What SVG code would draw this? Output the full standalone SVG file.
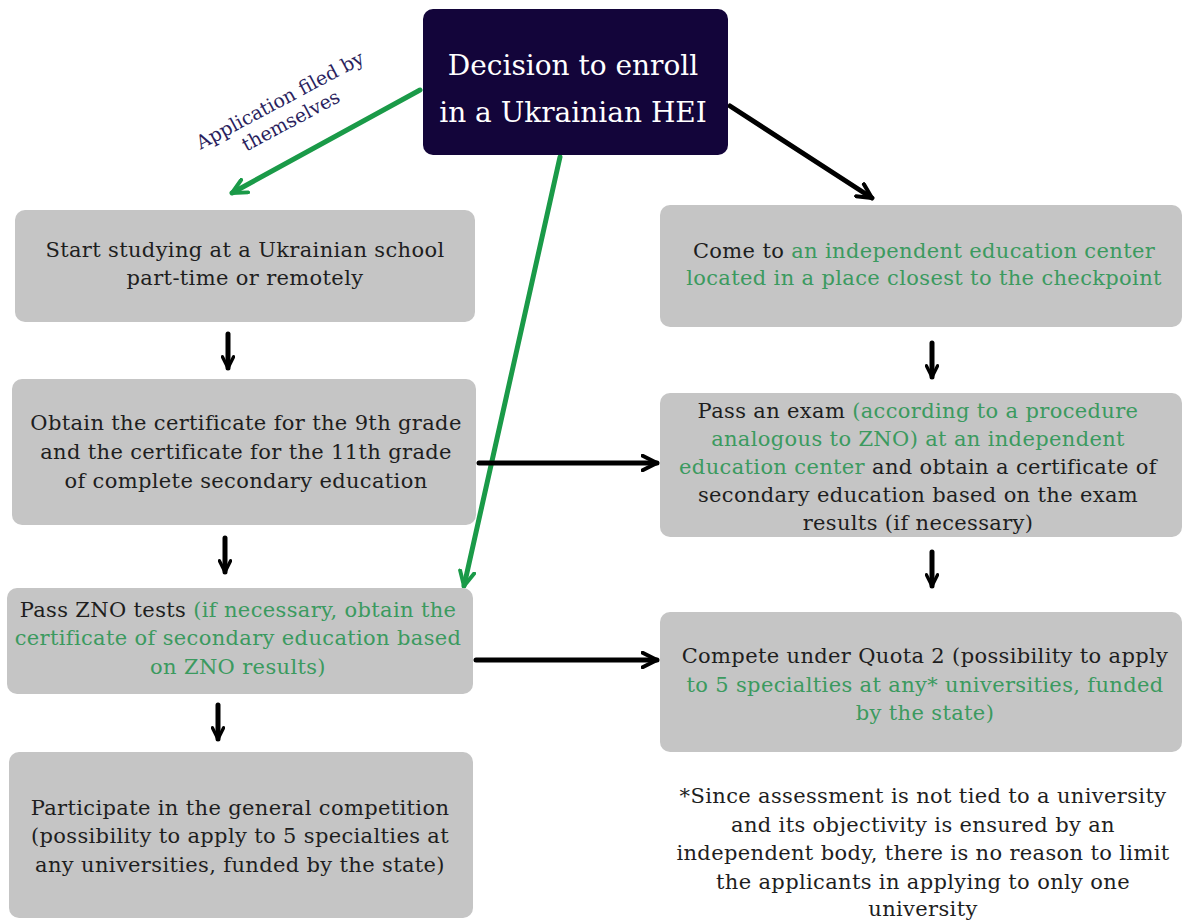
<svg xmlns="http://www.w3.org/2000/svg" width="1184" height="922" viewBox="0 0 1184 922">
<defs>
<style>
.box{fill:#c5c5c5;}
.t{font-family:"DejaVu Serif","Liberation Serif",serif;font-size:21px;letter-spacing:0.35px;fill:#1e1e1e;text-anchor:middle;}
.g{fill:#3b9a5f;}
.top{font-family:"DejaVu Serif","Liberation Serif",serif;font-size:28px;fill:#ffffff;text-anchor:middle;}
.lbl{font-family:"DejaVu Serif","Liberation Serif",serif;font-size:19px;fill:#2b1f5e;text-anchor:middle;}
.bl{stroke:#000;stroke-width:5;fill:none;stroke-linecap:round;stroke-linejoin:round;}
.gr{stroke:#1a9a48;stroke-width:5;fill:none;stroke-linecap:round;stroke-linejoin:round;}
</style>
<marker id="ab" viewBox="0 0 10 10" refX="9" refY="5" markerWidth="14" markerHeight="14" markerUnits="userSpaceOnUse" orient="auto">
<path d="M1,1 L9,5 L1,9" fill="none" stroke="#000" stroke-width="2.4" stroke-linecap="round" stroke-linejoin="round"/>
</marker>
<marker id="abL" viewBox="0 0 10 10" refX="9" refY="5" markerWidth="18" markerHeight="18" markerUnits="userSpaceOnUse" orient="auto">
<path d="M1,1 L9,5 L1,9" fill="none" stroke="#000" stroke-width="2.2" stroke-linecap="round" stroke-linejoin="round"/>
</marker>
<marker id="ag" viewBox="0 0 10 10" refX="9" refY="5" markerWidth="18" markerHeight="18" markerUnits="userSpaceOnUse" orient="auto">
<path d="M1,1 L9,5 L1,9" fill="none" stroke="#1a9a48" stroke-width="2.2" stroke-linecap="round" stroke-linejoin="round"/>
</marker>
</defs>
<rect width="1184" height="922" fill="#ffffff"/>

<g id="connectors">
<line class="gr" x1="420" y1="90" x2="232" y2="193" marker-end="url(#ag)"/>
<line class="gr" x1="560" y1="157" x2="464" y2="586" marker-end="url(#ag)"/>
<line class="bl" x1="730" y1="106" x2="872" y2="198" marker-end="url(#abL)"/>
<line class="bl" x1="479" y1="463" x2="657" y2="463" marker-end="url(#abL)"/>
<line class="bl" x1="476" y1="660" x2="657" y2="660" marker-end="url(#abL)"/>
<line class="bl" x1="228" y1="334" x2="228" y2="368" marker-end="url(#ab)"/>
<line class="bl" x1="225" y1="538" x2="225" y2="572" marker-end="url(#ab)"/>
<line class="bl" x1="218" y1="705" x2="218" y2="739" marker-end="url(#ab)"/>
<line class="bl" x1="932" y1="343" x2="932" y2="377" marker-end="url(#ab)"/>
<line class="bl" x1="932" y1="552" x2="932" y2="586" marker-end="url(#ab)"/>
<g transform="translate(283,106) rotate(-28)">
<text class="lbl" x="0" y="0">Application filed by</text>
<text class="lbl" x="0" y="23">themselves</text>
</g>
</g>

<g id="decision">
<rect x="423" y="9" width="305" height="146" rx="10" fill="#13053a"/>
<text class="top" x="573" y="75">Decision to enroll</text>
<text class="top" x="573" y="122">in a Ukrainian HEI</text>
</g>

<g id="start-school">
<rect class="box" x="15" y="210" width="460" height="112" rx="10"/>
<text class="t" x="245" y="257">Start studying at a Ukrainian school</text>
<text class="t" x="245" y="285">part-time or remotely</text>
</g>

<g id="certificate">
<rect class="box" x="12" y="379" width="464" height="146" rx="10"/>
<text class="t" x="246" y="430">Obtain the certificate for the 9th grade</text>
<text class="t" x="246" y="459">and the certificate for the 11th grade</text>
<text class="t" x="246" y="488">of complete secondary education</text>
</g>

<g id="zno">
<rect class="box" x="7" y="588" width="466" height="106" rx="10"/>
<text class="t" x="238" y="617">Pass ZNO tests  <tspan class="g">(if necessary, obtain the</tspan></text>
<text class="t g" x="238" y="645">certificate of secondary education based</text>
<text class="t g" x="238" y="674">on ZNO results)</text>
</g>

<g id="general-competition">
<rect class="box" x="9" y="752" width="464" height="166" rx="10"/>
<text class="t" x="240" y="815">Participate in the general competition</text>
<text class="t" x="240" y="843">(possibility to apply to 5 specialties at</text>
<text class="t" x="240" y="872">any universities, funded by the state)</text>
</g>

<g id="education-center">
<rect class="box" x="660" y="205" width="522" height="122" rx="10"/>
<text class="t" x="924" y="258">Come to <tspan class="g">an independent  education center</tspan></text>
<text class="t g" x="924" y="285">located in a place closest to the checkpoint</text>
</g>

<g id="exam">
<rect class="box" x="660" y="393" width="522" height="144" rx="10"/>
<text class="t" x="918" y="418">Pass an exam <tspan class="g">(according to a procedure</tspan></text>
<text class="t g" x="918" y="446">analogous to ZNO) at an independent</text>
<text class="t" x="918" y="474"><tspan class="g">education center</tspan> and obtain a certificate of</text>
<text class="t" x="918" y="502">secondary education based on the exam</text>
<text class="t" x="918" y="530">results  (if necessary)</text>
</g>

<g id="quota">
<rect class="box" x="660" y="612" width="522" height="140" rx="10"/>
<text class="t" x="925" y="663">Compete under Quota 2 (possibility to apply</text>
<text class="t g" x="925" y="692">to 5 specialties at any* universities, funded</text>
<text class="t g" x="925" y="720">by the state)</text>
</g>

<g id="footnote">
<text class="t" x="923" y="803">*Since assessment is not tied to a university</text>
<text class="t" x="923" y="832">and its objectivity is ensured by an</text>
<text class="t" x="923" y="860">independent body, there is no reason to limit</text>
<text class="t" x="923" y="889">the applicants in applying to only one</text>
<text class="t" x="923" y="916">university</text>
</g>
</svg>
